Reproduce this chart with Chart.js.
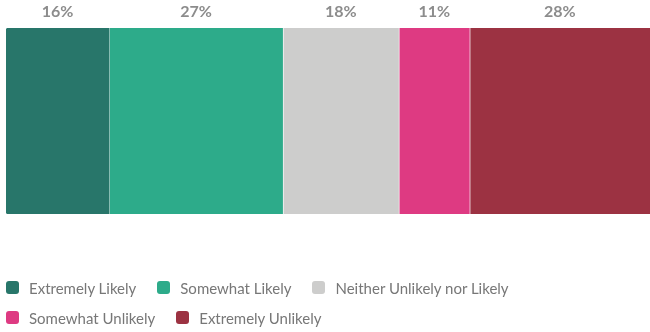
<!DOCTYPE html>
<html>
<head>
<meta charset="utf-8">
<script src="https://cdn.jsdelivr.net/npm/chart.js@4/dist/chart.umd.min.js"></script>
<style>
  html, body { margin: 0; padding: 0; background: #fff; }
  #wrap { position: relative; width: 650px; height: 332px; overflow: hidden; }
  #wrap canvas { position: absolute; left: 0; top: 0; }
  #legend {
    position: absolute; left: 6px; top: 278px; width: 644px;
    display: flex; flex-wrap: wrap; row-gap: 11px;
    font-family: Lato, "Open Sans", sans-serif; font-size: 15px; color: #777777;
  }
  #legend .item { display: flex; align-items: center; margin-right: 21px; height: 19px; }
  #legend .box { width: 13px; height: 13px; border-radius: 3px; margin-right: 10px; }
</style>
</head>
<body>
<div id="wrap">
  <canvas id="c" width="650" height="332"></canvas>
  <div id="legend"></div>
</div>
<script>
// Response categories and their share of respondents (%)
const categories = ['Extremely Likely', 'Somewhat Likely', 'Neither Unlikely nor Likely', 'Somewhat Unlikely', 'Extremely Unlikely'];
const shares = [16, 27, 18, 11, 28];
const colors = ['#28766a', '#2dab8a', '#cdcdcc', '#de3a82', '#9c3242'];

const datasets = categories.map((name, i) => ({
  label: name,
  data: [shares[i]],
  backgroundColor: colors[i],
  borderColor: '#ffffff',
  borderSkipped: false,
  borderWidth: { left: i > 0 ? 1 : 0, right: 0, top: 0, bottom: 0 },
  borderRadius: i === 0 ? { topLeft: 3, bottomLeft: 3, topRight: 0, bottomRight: 0 } : 0,
  categoryPercentage: 1,
  barPercentage: 1
}));

// Percentage labels centred above each segment
const valueLabels = {
  id: 'valueLabels',
  afterDatasetsDraw(chart) {
    const ctx = chart.ctx;
    ctx.save();
    ctx.font = 'bold 16px Lato, "Open Sans", sans-serif';
    ctx.fillStyle = '#8c8c8c';
    ctx.textAlign = 'center';
    ctx.textBaseline = 'middle';
    chart.data.datasets.forEach((ds, i) => {
      const bar = chart.getDatasetMeta(i).data[0];
      const left = Math.min(bar.x, bar.base);
      const right = Math.min(Math.max(bar.x, bar.base), chart.width);
      ctx.fillText(ds.data[0] + '%', (left + right) / 2, 12);
    });
    ctx.restore();
  }
};

const chart = new Chart(document.getElementById('c'), {
  type: 'bar',
  data: { labels: [''], datasets },
  options: {
    indexAxis: 'y',
    responsive: false,
    animation: false,
    layout: { padding: { left: 6, right: 0, top: 28, bottom: 118 } },
    scales: {
      x: { stacked: true, min: 0, max: 100, display: false },
      y: { stacked: true, display: false }
    },
    plugins: { legend: { display: false }, tooltip: { enabled: false } }
  },
  plugins: [valueLabels]
});

// HTML legend built from the chart's own legend items
const legendEl = document.getElementById('legend');
chart.options.plugins.legend.labels.generateLabels(chart).forEach(item => {
  const el = document.createElement('div');
  el.className = 'item';
  const box = document.createElement('span');
  box.className = 'box';
  box.style.background = item.fillStyle;
  const txt = document.createElement('span');
  txt.textContent = item.text;
  el.appendChild(box);
  el.appendChild(txt);
  legendEl.appendChild(el);
});
</script>
</body>
</html>
